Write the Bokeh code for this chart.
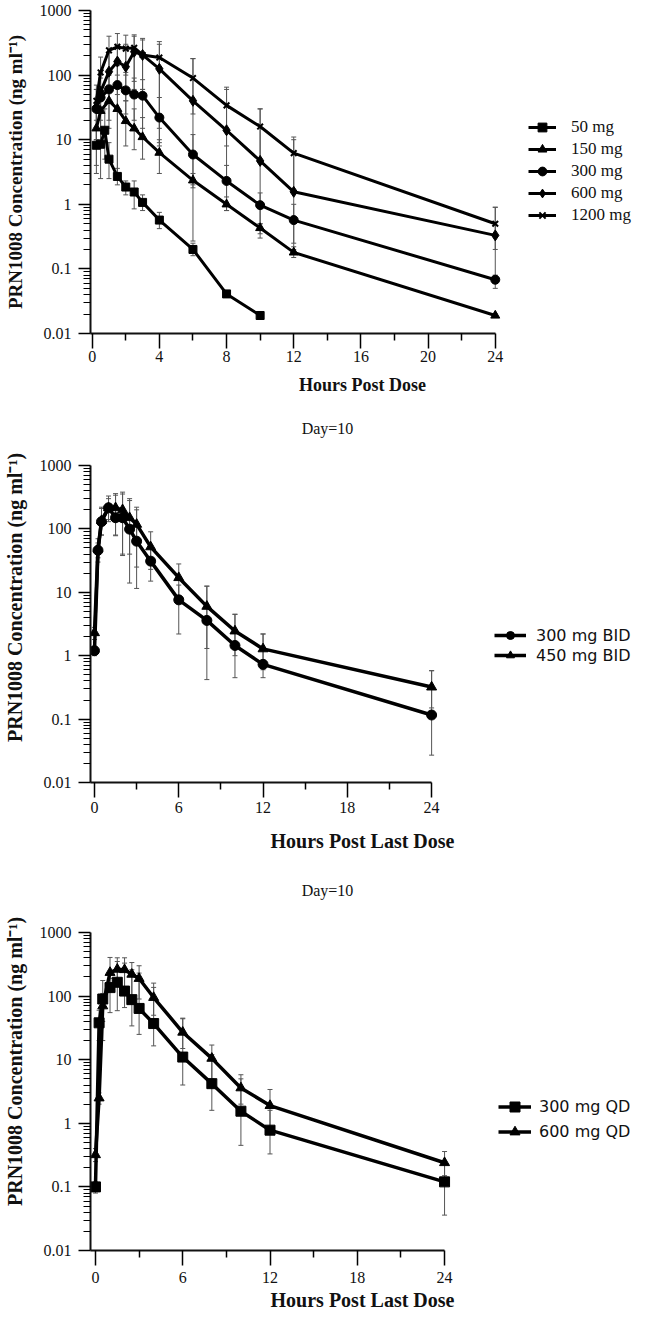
import math
from bokeh.plotting import figure
from bokeh.models import (Range1d, FixedTicker, CustomJSTickFormatter, Label,
                          Legend, LegendItem, Whisker, TeeHead, ColumnDataSource)
from bokeh.layouts import column
from bokeh.embed import file_html
from bokeh.resources import INLINE

# ---------------- Panel 1: single dose ----------------
hours_50 = [0.25, 0.5, 0.75, 1, 1.5, 2, 2.5, 3, 4, 6, 8, 10]
conc_50 = [8.2, 8.5, 14, 5, 2.7, 1.85, 1.55, 1.07, 0.57, 0.2, 0.041, 0.019]
hi_50 = [20, 15, 30, 9, 3.6, 2.3, 2.3, 1.4, 0.75, 0.25, 0.045, 0.02]
lo_50 = [3, 2.5, 5, 2.5, 2.0, 1.4, 0.85, 0.8, 0.42, 0.16, 0.037, 0.018]

hours_sd = [0.25, 0.5, 1, 1.5, 2, 2.5, 3, 4, 6, 8, 10, 12, 24]
conc_150 = [15, 28, 40, 30, 19.5, 15, 11, 6.3, 2.35, 1.0, 0.43, 0.18, 0.019]
hi_150 = [30, 55, 70, 80, 40, 30, 22, 10, 3, 1.3, 0.5, 0.22, 0.02]
lo_150 = [4, 10, 15, 3, 8, 7, 5, 3, 1.8, 0.8, 0.35, 0.15, 0.018]
conc_300 = [30, 45, 60, 70, 58, 50, 48, 22, 5.9, 2.3, 0.97, 0.57, 0.068]
hi_300 = [60, 90, 120, 140, 110, 90, 85, 45, 12, 4, 1.5, 1.0, 0.08]
lo_300 = [10, 15, 20, 3, 25, 20, 15, 8, 2, 1, 0.5, 0.2, 0.06]
conc_600 = [32, 55, 113, 162, 135, 230, 205, 125, 40, 14, 4.7, 1.56, 0.33]
hi_600 = [60, 110, 220, 300, 300, 400, 350, 300, 180, 60, 30, 10, 0.9]
lo_600 = [10, 20, 40, 50, 40, 80, 60, 15, 0.27, 0.8, 0.3, 0.25, 0.05]
conc_1200 = [40, 110, 242, 274, 257, 265, 205, 187, 90, 34, 16, 6.2, 0.5]
hi_1200 = [70, 190, 400, 440, 415, 420, 370, 330, 180, 65, 30, 11, 0.9]
lo_1200 = [15, 40, 100, 100, 100, 60, 60, 9, 25, 8, 5, 1.5, 0.2]

# ---------------- Panel 2: Day 10 BID ----------------
hours_bid = [0, 0.25, 0.5, 1, 1.5, 2, 2.5, 3, 4, 6, 8, 10, 12, 24]
conc_bid300 = [1.2, 46, 130, 215, 150, 150, 99, 64, 31, 7.6, 3.6, 1.45, 0.73, 0.116]
hi_bid300 = [1.4, 60, 210, 300, 340, 355, 280, 220, 55, 13, 12.5, 4.5, 2.2, 0.58]
lo_bid300 = [1.0, 35, 80, 140, 78, 38, 14, 11.5, 15, 2.2, 0.42, 0.45, 0.45, 0.027]
conc_bid450 = [2.3, 48, 135, 215, 215, 200, 150, 118, 52, 17, 6.0, 2.45, 1.28, 0.32]
hi_bid450 = [2.8, 70, 220, 330, 360, 380, 300, 200, 90, 28, 12.5, 4.5, 2.2, 0.58]
lo_bid450 = [1.8, 30, 80, 130, 80, 40, 40, 25, 23, 7, 1.3, 1.0, 0.6, 0.15]

# ---------------- Panel 3: Day 10 QD ----------------
hours_qd = [0, 0.25, 0.5, 1, 1.5, 2, 2.5, 3, 4, 6, 8, 10, 12, 24]
conc_qd300 = [0.1, 38, 90, 136, 165, 120, 88, 64, 37, 11, 4.2, 1.55, 0.78, 0.12]
hi_qd300 = [0.12, 60, 176, 190, 350, 330, 260, 230, 137, 44, 12, 5, 1.6, 0.25]
lo_qd300 = [0.08, 20, 20, 55, 59, 66, 34, 25, 16.5, 4, 1.6, 0.45, 0.33, 0.036]
conc_qd600 = [0.32, 2.5, 70, 235, 264, 260, 220, 189, 95, 27, 10.5, 3.6, 1.9, 0.24]
hi_qd600 = [0.4, 3, 110, 405, 400, 400, 337, 300, 160, 45, 17, 5.8, 3.4, 0.36]
lo_qd600 = [0.25, 2, 40, 120, 150, 140, 100, 90, 50, 15, 5, 2, 0.9, 0.15]

y_major = [0.01, 0.1, 1, 10, 100, 1000]
y_minor = [k * 10.0 ** e for e in range(-2, 3) for k in range(2, 10)]

SERIF = "Liberation Serif"
SANS = "DejaVu Sans"
YLABEL = "PRN1008 Concentration (ng ml\u207b\u00b9)"
PAGE_W = 634
FRAME_L = 95          # page x of every frame's left edge (shared by all panels)
PAGE_R = 8 + PAGE_W   # frames extend to the right edge of the page content


def make_panel(fig_top, fig_bottom, frame_top, y1000, y001, x0, x24,
               xmajor, xminor, xtick_standoff, xlabel, xlabel_size,
               xlabel_standoff, ylabel_size):
    pxh = (x24 - x0) / 24.0
    x_start = -(x0 - FRAME_L) / pxh
    x_end = 24 + (PAGE_R - x24) / pxh
    dec = (y001 - y1000) / 5.0
    y_end = 1000 * 10 ** ((y1000 - frame_top) / dec)
    p = figure(width=PAGE_W, height=fig_bottom - fig_top, y_axis_type="log",
               x_range=Range1d(x_start, x_end), y_range=Range1d(0.01, y_end),
               output_backend="svg", toolbar_location=None,
               min_border_left=FRAME_L - 8, min_border_right=0,
               min_border_top=frame_top - fig_top,
               min_border_bottom=fig_bottom - y001)
    p.outline_line_color = None
    p.xgrid.visible = False
    p.ygrid.visible = False
    p.background_fill_color = "white"
    p.border_fill_color = "white"

    xa = p.xaxis[0]
    xa.ticker = FixedTicker(ticks=xmajor, minor_ticks=xminor)
    xa.bounds = (x_start, 24)
    xa.axis_line_width = 2
    xa.axis_line_color = "#111111"
    xa.major_tick_line_width = 1.5
    xa.minor_tick_line_width = 1.5
    xa.major_tick_out = 15
    xa.major_tick_in = 0
    xa.minor_tick_out = 7
    xa.minor_tick_in = 0
    xa.major_label_standoff = xtick_standoff
    xa.major_label_text_font = SERIF
    xa.major_label_text_font_size = "16px"
    xa.major_label_text_color = "#111111"
    xa.axis_label = xlabel
    xa.axis_label_text_font = SERIF
    xa.axis_label_text_font_style = "bold"
    xa.axis_label_text_font_size = xlabel_size
    xa.axis_label_text_color = "#111111"
    xa.axis_label_standoff = xlabel_standoff

    ya = p.yaxis[0]
    ya.ticker = FixedTicker(ticks=y_major, minor_ticks=y_minor)
    ya.formatter = CustomJSTickFormatter(code="return tick.toString();")
    ya.bounds = (0.01, 1000)
    ya.axis_line_width = 2
    ya.axis_line_color = "#111111"
    ya.major_tick_line_width = 1.5
    ya.minor_tick_line_width = 1
    ya.major_tick_out = 12
    ya.major_tick_in = 0
    ya.minor_tick_out = 7
    ya.minor_tick_in = 0
    ya.major_label_standoff = 7
    ya.major_label_text_font = SERIF
    ya.major_label_text_font_size = "16px"
    ya.major_label_text_color = "#111111"
    ya.axis_label = YLABEL
    ya.axis_label_text_font = SERIF
    ya.axis_label_text_font_style = "bold"
    ya.axis_label_text_font_size = ylabel_size
    ya.axis_label_text_color = "#111111"
    ya.axis_label_standoff = 11
    return p


def add_series(p, t, c, hi, lo, marker, size, lw):
    src = ColumnDataSource(dict(t=t, c=c, hi=hi, lo=lo))
    w = Whisker(source=src, base="t", upper="hi", lower="lo", dimension="height",
                line_color="#555555", line_width=1,
                upper_head=TeeHead(size=5, line_color="#555555", line_width=1),
                lower_head=TeeHead(size=5, line_color="#555555", line_width=1))
    p.add_layout(w)
    lr = p.line("t", "c", source=src, line_color="black", line_width=lw)
    sr = p.scatter("t", "c", source=src, marker=marker, size=size,
                   fill_color="black", line_color="black",
                   line_width=2 if marker == "x" else 1)
    return lr, sr


def add_text(p, x, y, text, size):
    p.add_layout(Label(x=x, y=y, x_units="screen", y_units="screen", text=text,
                       text_align="center", text_baseline="middle",
                       text_font=SERIF, text_font_size=size,
                       text_color="#111111"))


def add_legend(p, items, x, y, glyph_w, item_h, standoff, font, size):
    leg = Legend(items=items, location=(x, y), orientation="vertical",
                 glyph_width=glyph_w, glyph_height=item_h, label_height=item_h,
                 label_standoff=standoff, spacing=0, padding=0, margin=0,
                 border_line_color=None, background_fill_alpha=0,
                 label_text_font=font, label_text_font_size=size,
                 label_text_color="#111111")
    p.add_layout(leg)


# ---------- Panel 1 ----------
P1_BOTTOM = 341
p1 = make_panel(8, 418, 18, 18, P1_BOTTOM, 96.7, 502,
                [0, 4, 8, 12, 16, 20, 24], [2, 6, 10, 14, 18, 22], 2,
                "Hours Post Dose", "18px", 10, "19px")
r50 = add_series(p1, hours_50, conc_50, hi_50, lo_50, "square", 8, 3)
r150 = add_series(p1, hours_sd, conc_150, hi_150, lo_150, "triangle", 9, 3)
r300 = add_series(p1, hours_sd, conc_300, hi_300, lo_300, "circle", 9, 3)
r600 = add_series(p1, hours_sd, conc_600, hi_600, lo_600, "diamond", 11, 3)
r1200 = add_series(p1, hours_sd, conc_1200, hi_1200, lo_1200, "x", 8, 3)
add_legend(p1, [LegendItem(label="50 mg", renderers=list(r50)),
                LegendItem(label="150 mg", renderers=list(r150)),
                LegendItem(label="300 mg", renderers=list(r300)),
                LegendItem(label="600 mg", renderers=list(r600)),
                LegendItem(label="1200 mg", renderers=list(r1200))],
           533 - FRAME_L, P1_BOTTOM - 234, 28, 22, 15, SERIF, "17px")

# ---------- Panel 2 ----------
P2_BOTTOM = 790
p2 = make_panel(418, 870, 420, 473, P2_BOTTOM, 99, 438,
                [0, 6, 12, 18, 24], [3, 9, 15, 21], 4,
                "Hours Post Last Dose", "20px", 14, "20px")
rb300 = add_series(p2, hours_bid, conc_bid300, hi_bid300, lo_bid300, "circle", 10, 3.5)
rb450 = add_series(p2, hours_bid, conc_bid450, hi_bid450, lo_bid450, "triangle", 10, 3.5)
add_text(p2, 332 - FRAME_L, P2_BOTTOM - 436, "Day=10", "16px")
add_legend(p2, [LegendItem(label="300 mg BID", renderers=list(rb300)),
                LegendItem(label="450 mg BID", renderers=list(rb450))],
           499 - FRAME_L, P2_BOTTOM - 673, 32, 20, 10, SANS, "16px")

# ---------- Panel 3 ----------
P3_BOTTOM = 1258
p3 = make_panel(870, 1324, 880, 940, P3_BOTTOM, 100, 451,
                [0, 6, 12, 18, 24], [3, 9, 15, 21], 6,
                "Hours Post Last Dose", "20px", 3, "20px")
rq300 = add_series(p3, hours_qd, conc_qd300, hi_qd300, lo_qd300, "square", 10, 3.5)
rq600 = add_series(p3, hours_qd, conc_qd600, hi_qd600, lo_qd600, "triangle", 10, 3.5)
add_text(p3, 332 - FRAME_L, P3_BOTTOM - 898, "Day=10", "16px")
add_legend(p3, [LegendItem(label="300 mg QD", renderers=list(rq300)),
                LegendItem(label="600 mg QD", renderers=list(rq600))],
           503 - FRAME_L, P3_BOTTOM - 1152, 33, 25, 8, SANS, "16px")

layout = column(p1, p2, p3, spacing=0)
open("out.html", "w").write(file_html(layout, INLINE))
